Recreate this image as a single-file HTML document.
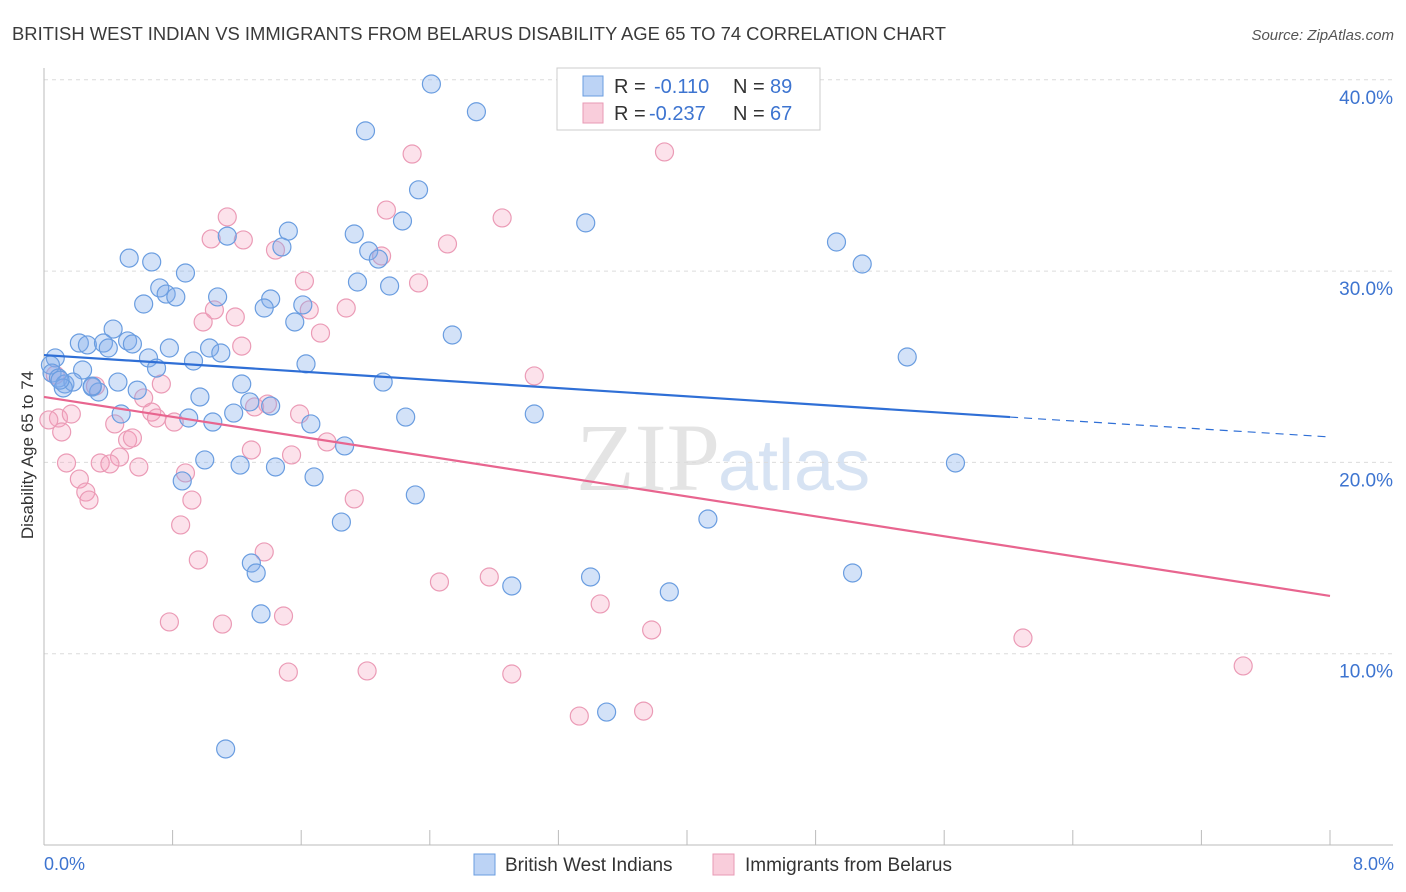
<!DOCTYPE html>
<html><head><meta charset="utf-8"><style>
body{margin:0;background:#fff;font-family:"Liberation Sans",sans-serif;}
svg{display:block}
</style></head><body>
<svg id="chart" width="1406" height="892" viewBox="0 0 1406 892">
<text x="12" y="40" font-size="18" textLength="934" lengthAdjust="spacingAndGlyphs" fill="#3a3a3a">BRITISH WEST INDIAN VS IMMIGRANTS FROM BELARUS DISABILITY AGE 65 TO 74 CORRELATION CHART</text>
<text x="1394" y="40" font-size="15" fill="#555" font-style="italic" text-anchor="end">Source: ZipAtlas.com</text>
<text x="720" y="490" font-size="96" font-family="Liberation Serif,serif" fill="#e4e4e4" text-anchor="end">ZIP</text>
<text x="718" y="490" font-size="72" fill="#d7e3f3">atlas</text>
<g id="grid"></g>
<g id="axes"></g>
<g id="pts-pink"></g>
<g id="pts-blue"></g>
<g id="trends"></g>
<text transform="translate(33,455) rotate(-90)" font-size="17" fill="#333" text-anchor="middle">Disability Age 65 to 74</text>
<text x="44" y="870" font-size="18" fill="#3d74d0">0.0%</text>
<text x="1394" y="870" font-size="18" fill="#3d74d0" text-anchor="end">8.0%</text>
<g>
<rect x="557" y="68" width="263" height="62" fill="#fff" stroke="#ccc"/>
<rect x="583" y="76" width="20" height="20" fill="#bcd3f5" stroke="#6a9de0"/>
<rect x="583" y="103" width="20" height="20" fill="#f9cddb" stroke="#e89ab5"/>
<g font-size="20">
<text x="614" y="93" fill="#333">R =</text><text x="654" y="93" fill="#3d74d0">-0.110</text>
<text x="733" y="93" fill="#333">N =</text><text x="770" y="93" fill="#3d74d0">89</text></g>
<g font-size="20">
<text x="614" y="120" fill="#333">R =</text><text x="649" y="120" fill="#3d74d0">-0.237</text>
<text x="733" y="120" fill="#333">N =</text><text x="770" y="120" fill="#3d74d0">67</text></g>
</g>
<g>
<rect x="474" y="854" width="21" height="21" fill="#bcd3f5" stroke="#6a9de0"/>
<text x="505" y="871" font-size="19" fill="#333">British West Indians</text>
<rect x="713" y="854" width="21" height="21" fill="#f9cddb" stroke="#e89ab5"/>
<text x="745" y="871" font-size="19" fill="#333">Immigrants from Belarus</text>
</g>
</svg>
<script>
const yTicks=[10,20,30,40];
const yTickLabels=["10.0%","20.0%","30.0%","40.0%"];
const blueX=[2.41,2.69,2.00,2.33,3.37,2.23,1.52,1.14,1.93,1.48,2.02,2.08,0.53,0.67,0.88,4.93,5.09,1.95,2.15,0.72,0.76,0.82,1.08,1.41,0.62,1.37,1.61,1.56,0.43,2.54,0.22,0.27,0.37,0.52,0.55,0.40,0.78,1.03,1.10,0.65,0.93,1.63,5.37,0.07,0.04,0.24,0.70,0.05,0.09,0.13,0.18,0.30,0.34,0.46,0.58,1.23,2.11,0.97,1.28,1.41,3.05,2.25,0.48,0.90,1.05,1.18,1.66,1.87,1.00,1.22,1.44,5.67,1.68,0.86,2.31,1.85,4.13,1.29,1.32,5.03,3.40,2.91,3.89,1.35,3.50,1.13,0.12,0.30,0.10];
const blueY=[39.78,38.33,37.33,34.25,32.52,32.62,32.09,31.83,31.94,31.26,31.05,30.63,30.68,30.48,29.90,31.52,30.37,29.43,29.22,29.12,28.80,28.65,28.65,28.54,28.28,28.07,28.23,27.34,26.97,26.66,26.24,26.14,26.24,26.35,26.19,25.98,25.98,25.98,25.72,25.46,25.30,25.15,25.51,25.46,25.09,24.83,24.93,24.67,24.41,24.10,24.20,23.94,23.68,24.20,23.78,24.10,24.20,23.42,23.16,22.95,22.53,22.37,22.53,22.32,22.11,22.58,22.01,20.86,20.13,19.86,19.76,19.97,19.24,19.03,18.30,16.88,17.04,14.74,14.22,14.22,14.01,13.54,13.23,12.08,6.95,5.02,23.89,23.99,24.30];
const pinkX=[2.29,3.86,1.14,2.13,2.85,1.04,1.24,1.44,2.51,2.10,1.62,2.33,1.06,1.19,0.99,1.65,1.88,1.72,1.23,3.05,0.07,0.73,0.32,0.62,0.67,0.70,0.81,1.59,1.31,1.39,0.09,0.44,0.52,0.55,1.76,1.29,0.03,0.17,0.11,0.47,0.35,0.41,0.14,0.59,0.88,1.54,0.22,0.26,0.28,0.92,1.93,0.85,0.96,1.37,2.46,2.77,3.46,0.78,1.11,1.49,3.78,6.09,7.46,1.52,2.01,2.91,3.33,3.73];
const pinkY=[36.12,36.23,32.83,33.19,32.78,31.68,31.63,31.10,31.42,30.79,29.48,29.38,27.97,27.60,27.34,27.97,28.07,26.76,26.08,24.52,24.57,24.10,23.99,23.37,22.63,22.32,22.11,22.53,22.90,23.05,22.32,22.01,21.17,21.28,21.07,20.65,22.22,22.53,21.59,20.28,19.97,19.92,19.97,19.76,19.45,20.39,19.13,18.45,18.03,18.03,18.09,16.73,14.90,15.32,13.75,14.01,12.60,11.66,11.55,11.97,11.24,10.82,9.36,9.04,9.10,8.94,6.74,7.00];
const blueTrend=[[0,25.61],[6.01,22.37],[8,21.33]];
const pinkTrend=[[0,23.42],[8,13.02]];
const NS="http://www.w3.org/2000/svg";
const X=v=>44+v/8*1286, Y=v=>845-v*19.13;
function mk(t,a,p){const e=document.createElementNS(NS,t);for(const k in a)e.setAttribute(k,a[k]);p.appendChild(e);return e;}
const grid=document.getElementById('grid');
yTicks.forEach((t,i)=>{
 const l=mk('line',{x1:44,x2:1393,y1:Y(t),y2:Y(t),stroke:'#dcdcdc','stroke-dasharray':'4,4'},grid);
 
 
 const tx=mk('text',{x:1393,y:Y(t)+24,'font-size':19,fill:'#3d74d0','text-anchor':'end'},grid);
 tx.textContent=yTickLabels[i];
 
 
});
const axes=document.getElementById('axes');
mk('line',{x1:44,x2:44,y1:68,y2:845,stroke:'#bbb'},axes);
mk('line',{x1:44,x2:1393,y1:845,y2:845,stroke:'#bbb'},axes);
for(let i=0;i<=10;i++){const t=mk('line',{x1:X(i*0.8),x2:X(i*0.8),y1:830,y2:845,stroke:'#bbb'},axes);
 
 }
function pts(xs,ys,g,fill,stroke,name){xs.forEach((x,i)=>{const c=mk('circle',{cx:X(x),cy:Y(ys[i]),r:9,fill:fill,stroke:stroke,'stroke-width':1.2},g);
 
 });}
pts(pinkX,pinkY,document.getElementById('pts-pink'),'rgba(244,160,188,0.3)','#eb9bb6','belarus-point');
pts(blueX,blueY,document.getElementById('pts-blue'),'rgba(130,172,235,0.35)','#6a9de0','bwi-point');
const tr=document.getElementById('trends');
const b1=mk('line',{x1:X(blueTrend[0][0]),y1:Y(blueTrend[0][1]),x2:X(blueTrend[1][0]),y2:Y(blueTrend[1][1]),stroke:'#2f6fd6','stroke-width':2.2},tr);


const b2=mk('line',{x1:X(blueTrend[1][0]),y1:Y(blueTrend[1][1]),x2:X(blueTrend[2][0]),y2:Y(blueTrend[2][1]),stroke:'#2f6fd6','stroke-width':1.2,'stroke-dasharray':'8,6'},tr);


const p1=mk('line',{x1:X(pinkTrend[0][0]),y1:Y(pinkTrend[0][1]),x2:X(pinkTrend[1][0]),y2:Y(pinkTrend[1][1]),stroke:'#e8658f','stroke-width':2.2},tr);


</script>
</body></html>
